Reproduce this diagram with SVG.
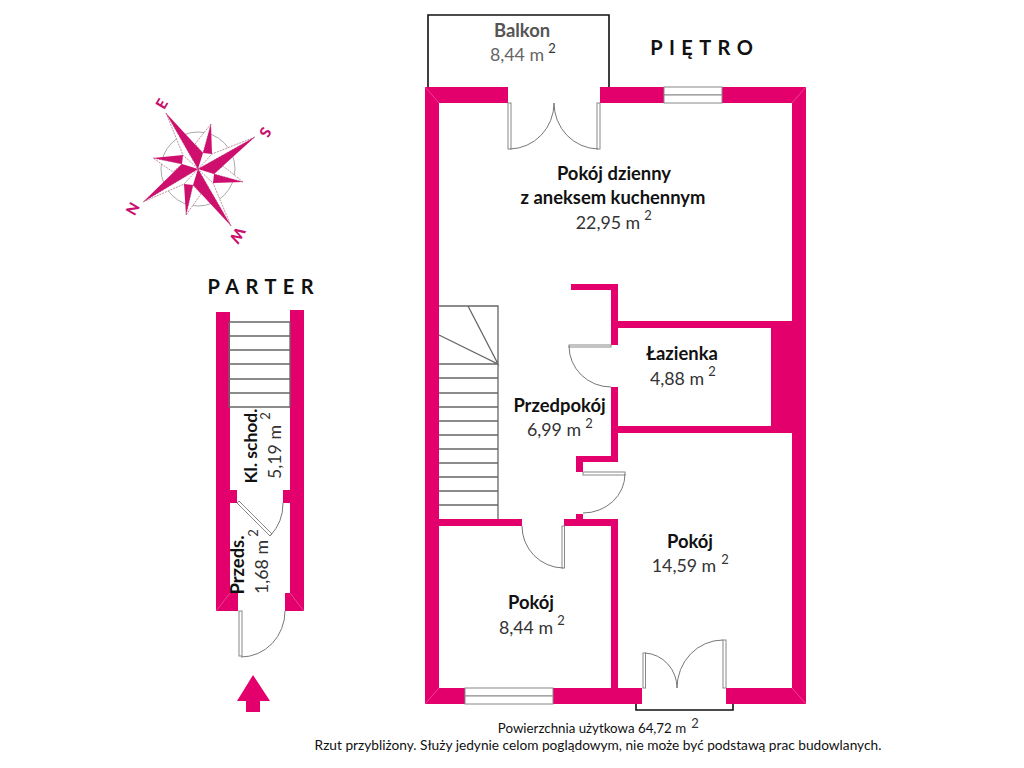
<svg xmlns="http://www.w3.org/2000/svg" width="1024" height="768" viewBox="0 0 1024 768">
<style>
text{font-family:"Lato","Liberation Sans",sans-serif;fill:#222;text-anchor:middle}
.n{font-weight:700;font-size:18.4px;fill:#111}
.a{font-size:17.8px;fill:#333}
.s{font-size:13px;fill:#333}
.h{font-weight:700;font-size:20px;letter-spacing:.32em;fill:#111}
.f{font-size:13.7px;fill:#111}
.c{font-weight:900;font-size:15px;fill:#c8106c}
.w{fill:#e3006d}
.e{stroke:#f25a9c;stroke-width:.7;fill:none}
.d{fill:none;stroke:#777;stroke-width:1}
.l{fill:#fff;stroke:#888;stroke-width:1}
.t{stroke:#666;stroke-width:1.3;fill:none}
.b{fill:none;stroke:#111;stroke-width:1.6}
.m{fill:#cf0f6e}
.o{fill:#fff;stroke:#a0607f;stroke-width:.7;stroke-dasharray:2 1}
</style>

<g id="compass">
<circle cx="198" cy="169" r="37" fill="none" stroke="#aaa" stroke-width="1"/>
<path class="o" d="M166 113L183 155L198 169ZM255 137L212 154L198 169ZM231 226L213 183L198 169ZM143 202L184 184L198 169ZM211 124L203 153L195 144ZM243 182L214 174L223 166ZM186 215L193 185L201 194ZM153 158L182 164L173 172Z"/>
<path class="m" d="M166 113L203 153L198 169ZM255 137L214 174L198 169ZM231 226L193 185L198 169ZM143 202L182 164L198 169ZM211 124L203 153L212 154ZM243 182L214 174L213 183ZM186 215L193 185L184 184ZM153 158L182 164L183 155Z"/>
<text class="c" transform="translate(162 104) rotate(-60)" y="5">E</text>
<text class="c" transform="translate(265 132) rotate(120)" y="5">S</text>
<text class="c" transform="translate(237 235) rotate(120)" y="5">W</text>
<text class="c" transform="translate(133 209) rotate(-60)" y="5">N</text>
</g>

<g id="parter">
<path class="w" d="M216 312H230V490H237V503H230V593H238V611H216ZM290 310H304V611H285V593H290V503H283V490H290Z"/>
<path class="e" d="M216 611L230 593M304 611L290 593"/>
<path class="t" d="M229 322H290M229 336H290M229 350H290M229 364H290M229 379H290M229 393H290M229 407H290M229 322V407M290 322V407"/>
<path class="l" d="M237 503L239 501L272 534L270 536Z"/>
<path class="d" d="M270 536A47 47 0 0 0 283 503"/>
<rect class="l" x="239" y="611" width="3" height="45"/>
<path class="d" d="M241 657A44 46 0 0 0 285 611"/>
<path class="w" d="M253 675L270 701H260V712H246V701H237Z"/>
<text class="n" style="font-size:17.500px" transform="translate(257 446) rotate(-90)">Kl. schod.</text>
<text class="a" transform="translate(281 452) rotate(-90)">5,19 m</text>
<text class="s" transform="translate(270 416) rotate(-90)">2</text>
<text class="n" transform="translate(244 565) rotate(-90)">Przeds.</text>
<text class="a" transform="translate(268 567) rotate(-90)">1,68 m</text>
<text class="s" transform="translate(258 533) rotate(-90)">2</text>
<text class="h" x="263.700" y="294">PARTER</text>
</g>

<g id="pietro">
<path class="w" d="M425 87H508V103H425ZM600 87H664V103H600ZM722 87H806V103H722ZM425 87H439V704H425ZM792 87H806V704H792ZM425 688H465V704H425ZM553 688H642V704H553ZM726 688H806V704H726ZM571 284H618V290H571ZM611 284H618V345H611ZM611 321H792V328H611ZM771 321H792V433H771ZM611 426H792V433H611ZM611 387H618V462H611ZM576 456H618V462H576ZM576 456H583V472H576ZM576 514H583V526H576ZM439 519H522V526H439ZM564 519H618V526H564ZM611 519H618V688H611Z"/>
<path class="e" d="M425 87L439 103M806 87L792 103M425 704L439 688M806 704L792 688"/>
<rect class="l" x="664" y="87" width="58" height="8"/><rect class="l" x="664" y="95" width="58" height="8"/>
<rect class="l" x="465" y="688" width="88" height="8"/><rect class="l" x="465" y="696" width="88" height="8"/>
<path class="b" d="M428 87V15H609V87M636 704V710H733V704"/>
<path class="t" d="M439 306H498V519M439 364H498M468 306L498 364L439 335M439 378H498M439 393H498M439 407H498M439 421H498M439 435H498M439 449H498M439 463H498M439 477H498M439 491H498M439 505H498"/>
<rect class="l" x="508" y="103" width="3" height="46"/><rect class="l" x="597" y="103" width="3" height="46"/>
<path class="d" d="M510 149A45 46 0 0 0 554 103A45 46 0 0 0 598 149"/>
<rect class="l" x="569" y="345" width="42" height="2"/>
<path class="d" d="M569 346A42 41 0 0 0 611 387"/>
<rect class="l" x="583" y="472" width="42" height="3"/>
<path class="d" d="M625 474A42 39 0 0 1 583 513"/>
<rect class="l" x="562" y="526" width="2.500" height="42"/>
<path class="d" d="M522 526A42 42 0 0 0 563 568"/>
<rect class="l" x="643" y="653" width="2.500" height="35"/><rect class="l" x="723" y="640" width="3" height="48"/>
<path class="d" d="M645 653A34 35 0 0 1 677 688A46 48 0 0 1 723 640"/>
<text class="n" style="fill:#555" x="522" y="37">Balkon</text>
<text class="a" style="fill:#666" x="517" y="61">8,44 m</text>
<text class="s" x="552" y="53">2</text>
<text class="h" x="704.700" y="55">PIĘTRO</text>
<text class="n" x="614" y="180">Pokój dzienny</text>
<text class="n" x="613" y="204">z aneksem kuchennym</text>
<text class="a" x="608" y="229">22,95 m</text>
<text class="s" x="648" y="220">2</text>
<text class="n" x="682" y="360">Łazienka</text>
<text class="a" x="677" y="385">4,88 m</text>
<text class="s" x="712" y="376">2</text>
<text class="n" x="559.500" y="412">Przedpokój</text>
<text class="a" x="554" y="436">6,99 m</text>
<text class="s" x="589" y="428">2</text>
<text class="n" x="690" y="548">Pokój</text>
<text class="a" x="684" y="572">14,59 m</text>
<text class="s" x="725" y="564">2</text>
<text class="n" x="531" y="609">Pokój</text>
<text class="a" x="526" y="634">8,44 m</text>
<text class="s" x="561" y="625">2</text>
<text class="f" style="font-size:13.300px" x="592" y="733">Powierzchnia użytkowa 64,72 m</text>
<text class="s" x="695" y="728">2</text>
<text class="f" x="598" y="750">Rzut przybliżony. Służy jedynie celom poglądowym, nie może być podstawą prac budowlanych.</text>
</g>
</svg>
